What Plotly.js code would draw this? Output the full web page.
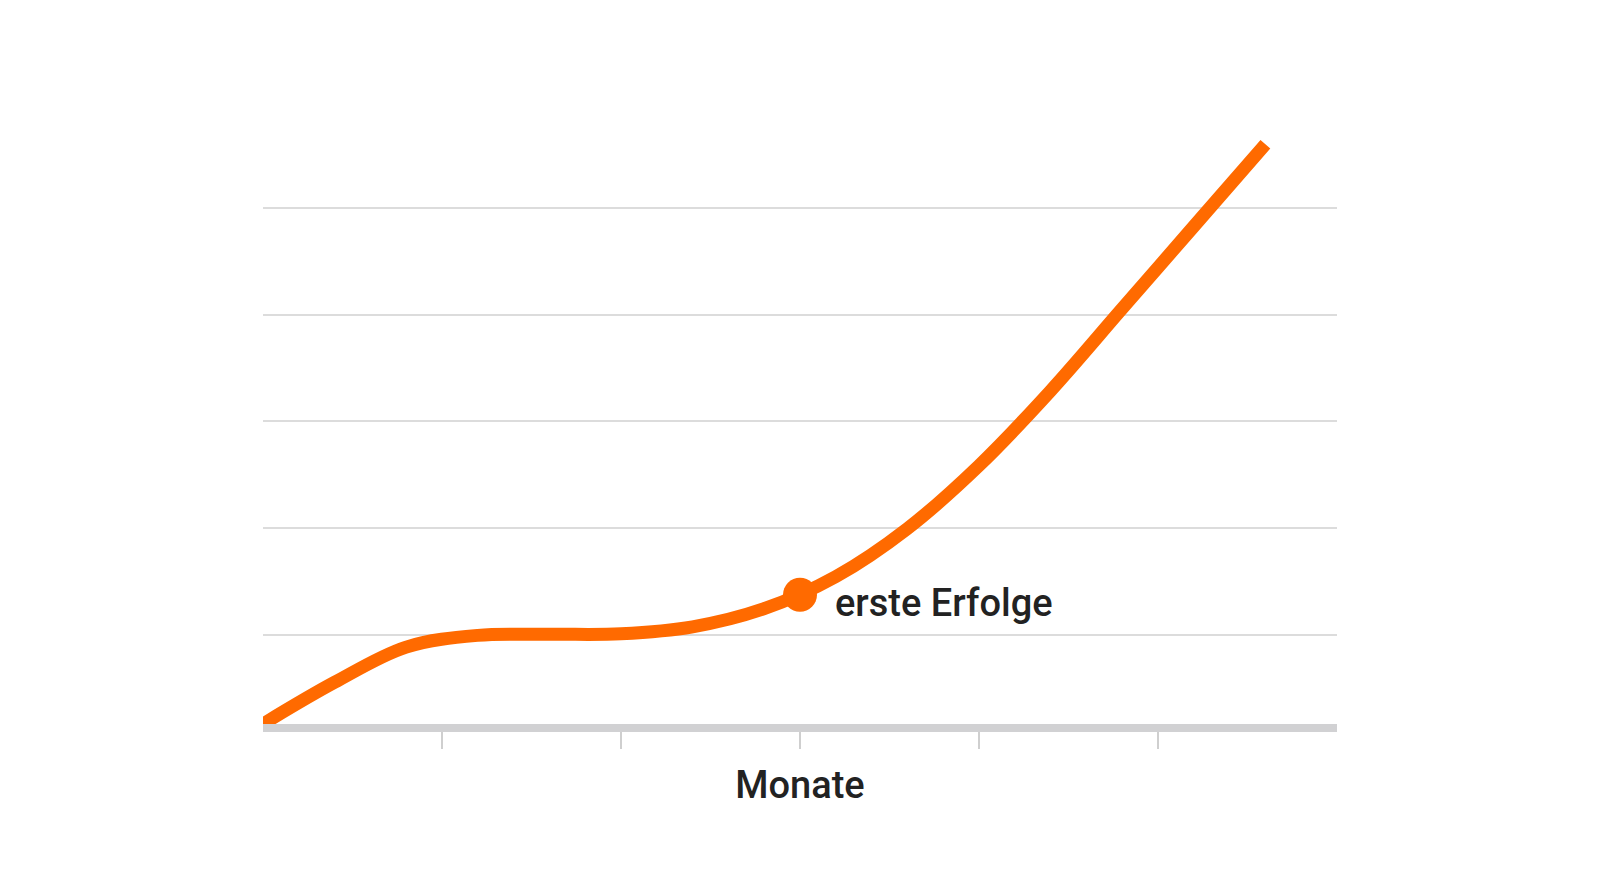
<!DOCTYPE html>
<html>
<head>
<meta charset="utf-8">
<script src="https://cdn.plot.ly/plotly-3.0.1.min.js"></script>
<style>
  html, body { margin: 0; padding: 0; background: #ffffff; }
  #chart { width: 1600px; height: 894px; }
</style>
</head>
<body>
<div id="chart"></div>
<script>
// growth curve (x = months, y = arbitrary units)
const months = [0, 0.4, 0.8, 1.2, 1.6, 2.0, 2.4, 2.8, 3.2, 3.6, 4.0, 4.4, 4.8, 5.2, 5.6];
const growth = [0, 0.39, 0.72, 0.83, 0.84, 0.845, 0.91, 1.08, 1.38, 1.83, 2.42, 3.12, 3.89, 4.66, 5.43];

// highlighted milestone
const milestoneX = [3.0];
const milestoneY = [1.21];
const milestoneLabel = 'erste Erfolge';

const monthTicks = [1, 2, 3, 4, 5];
const xTitle = 'Monate';

const orange = '#ff6a00';

const traces = [
    {
        x: months,
        y: growth,
        mode: 'lines',
        line: { color: orange, width: 13, shape: 'spline', smoothing: 1 },
        cliponaxis: false,
        hoverinfo: 'skip'
    },
    {
        x: milestoneX,
        y: milestoneY,
        mode: 'markers',
        marker: { color: orange, size: 34 },
        cliponaxis: false,
        hoverinfo: 'skip'
    }
];

const layout = {
    width: 1600,
    height: 894,
    paper_bgcolor: '#ffffff',
    plot_bgcolor: '#ffffff',
    font: { family: 'Roboto, sans-serif', color: '#222222' },
    showlegend: false,
    margin: { l: 263, r: 263, t: 126, b: 170 },
    xaxis: {
        range: [0, 6],
        showgrid: false,
        zeroline: false,
        showline: true,
        linecolor: '#d1d1d3',
        linewidth: 8,
        tickmode: 'array',
        tickvals: monthTicks,
        ticks: 'outside',
        ticklen: 17,
        tickwidth: 2,
        tickcolor: '#cfcfcf',
        showticklabels: false,
        title: {
            text: xTitle,
            font: { size: 38, weight: 500, color: '#222222' },
            standoff: 26
        }
    },
    yaxis: {
        range: [0, 5.6],
        showgrid: true,
        gridcolor: '#dcdcdc',
        gridwidth: 2,
        zeroline: false,
        showline: false,
        tick0: 0.834,
        dtick: 1,
        showticklabels: false,
        ticks: ''
    },
    annotations: [
        {
            x: milestoneX[0],
            y: milestoneY[0],
            xref: 'x',
            yref: 'y',
            text: milestoneLabel,
            showarrow: false,
            xanchor: 'left',
            yanchor: 'middle',
            xshift: 33,
            yshift: -8,
            font: { size: 38, weight: 500, color: '#222222' }
        }
    ]
};

Plotly.newPlot('chart', traces, layout, { displayModeBar: false, staticPlot: true });
</script>
</body>
</html>
